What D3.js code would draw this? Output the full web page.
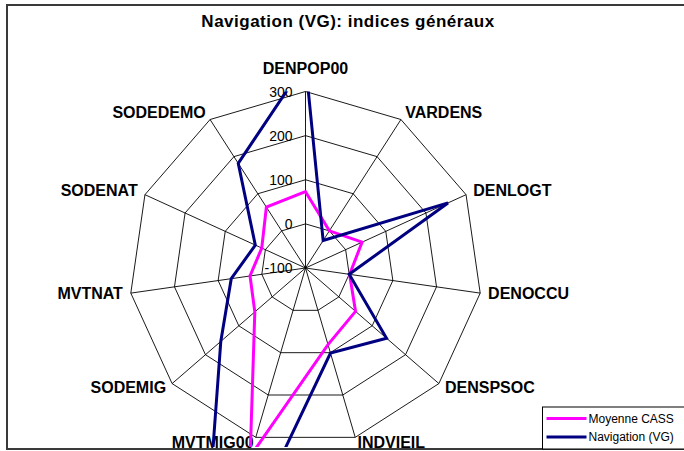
<!DOCTYPE html>
<html lang="fr">
<head>
<meta charset="utf-8">
<title>Navigation (VG): indices généraux</title>
<script src="https://cdn.jsdelivr.net/npm/d3@7"></script>
<style>
body {
  margin: 0;
  background: #fff;
  font-family: "Liberation Sans", Arial, sans-serif;
}
.chart-title { font-size: 17px; font-weight: bold; letter-spacing: 0.5px; }
.axis-label { font-size: 16px; font-weight: bold; }
.tick-label { font-size: 14px; }
.legend-text { font-size: 12px; }
</style>
</head>
<body>
<svg width="684" height="451"></svg>
<script>

var axes = ["DENPOP00", "VARDENS", "DENLOGT", "DENOCCU", "DENSPSOC", "INDVIEIL",
            "MVTMIG00", "SODEMIG", "MVTNAT", "SODENAT", "SODEDEMO"];
var ticks = [-100, 0, 100, 200, 300];

var moyenneCass = [73, 0, 41, 1, 50, 81, 345, 52, 27, 9, 64];
var navigation  = [365, -26, 255, 0, 143, 101, 750, 154, 70, 25, 182];

var seriesNames = ["Moyenne CASS", "Navigation (VG)"];
var seriesColors = ["#ff00ff", "#000080"];

var svg = d3.select("svg"),
    width = +svg.attr("width"),
    height = +svg.attr("height");

var cx = 305.5, cy = 268, R = 176.5;

var r = d3.scaleLinear()
    .domain([ticks[0], ticks[ticks.length - 1]])
    .range([0, R]);

var angle = function(i) { return i * 2 * Math.PI / axes.length; };

// chart area frame
svg.append("rect")
    .attr("x", 7).attr("y", 5)
    .attr("width", width + 10).attr("height", 444)
    .attr("fill", "#fff")
    .attr("stroke", "#3a3a3a")
    .attr("stroke-width", 2);

svg.append("text")
    .attr("class", "chart-title")
    .attr("x", 348).attr("y", 27)
    .attr("text-anchor", "middle")
    .text("Navigation (VG): indices généraux");

// series are clipped to the plot area, like Excel does
svg.append("clipPath")
    .attr("id", "plot-clip")
  .append("rect")
    .attr("x", 0).attr("y", cy - R)
    .attr("width", width).attr("height", 447 - (cy - R));

var g = svg.append("g")
    .attr("transform", "translate(" + cx + "," + cy + ")");

var ring = d3.lineRadial()
    .angle(function(d, i) { return angle(i); })
    .radius(function(d) { return r(d); })
    .curve(d3.curveLinearClosed);

// web grid
g.selectAll(".ring")
  .data(ticks.slice(1))
  .enter().append("path")
    .attr("class", "ring")
    .attr("d", function(t) { return ring(axes.map(function() { return t; })); })
    .attr("fill", "none")
    .attr("stroke", "#000")
    .attr("stroke-width", 0.9);

g.selectAll(".spoke")
  .data(axes)
  .enter().append("line")
    .attr("class", "spoke")
    .attr("x1", 0).attr("y1", 0)
    .attr("x2", function(d, i) { return R * Math.sin(angle(i)); })
    .attr("y2", function(d, i) { return -R * Math.cos(angle(i)); })
    .attr("stroke", "#000")
    .attr("stroke-width", 0.9);

// value labels up the first spoke
g.selectAll(".tick-label")
  .data(ticks)
  .enter().append("text")
    .attr("class", "tick-label")
    .attr("x", -13)
    .attr("y", function(d) { return -r(d); })
    .attr("dy", "0.36em")
    .attr("text-anchor", "end")
    .text(function(d) { return d; });

// category labels
g.selectAll(".axis-label")
  .data(axes)
  .enter().append("text")
    .attr("class", "axis-label")
    .attr("x", function(d, i) { return (R + 8) * Math.sin(angle(i)); })
    .attr("y", function(d, i) {
      var a = angle(i), y = -(R + 8) * Math.cos(a);
      if (i === 0) return y - 10;
      return y + 5 - 3 * Math.max(0, -Math.cos(a) - 0.3);
    })
    .attr("text-anchor", function(d, i) {
      var s = Math.sin(angle(i));
      return Math.abs(s) < 0.1 ? "middle" : (s > 0 ? "start" : "end");
    })
    .text(function(d) { return d; });

// series
var plot = g.append("g")
    .attr("clip-path", "url(#plot-clip)")
    .attr("transform", "translate(" + (-cx) + "," + (-cy) + ")")
  .append("g")
    .attr("transform", "translate(" + cx + "," + cy + ")");

plot.selectAll(".series")
  .data([moyenneCass, navigation])
  .enter().append("path")
    .attr("class", "series")
    .attr("d", ring)
    .attr("fill", "none")
    .attr("stroke", function(d, i) { return seriesColors[i]; })
    .attr("stroke-width", 3)
    .attr("stroke-linejoin", "miter");

// legend
var legend = svg.append("g")
    .attr("transform", "translate(542.5,407)");

legend.append("rect")
    .attr("width", 160).attr("height", 42)
    .attr("fill", "#fff")
    .attr("stroke", "#000")
    .attr("stroke-width", 1);

var item = legend.selectAll(".legend-item")
  .data(seriesNames)
  .enter().append("g")
    .attr("class", "legend-item")
    .attr("transform", function(d, i) { return "translate(0," + (11.5 + i * 18.5) + ")"; });

item.append("line")
    .attr("x1", 4).attr("x2", 44)
    .attr("stroke", function(d, i) { return seriesColors[i]; })
    .attr("stroke-width", 3);

item.append("text")
    .attr("class", "legend-text")
    .attr("x", 46)
    .attr("dy", "0.36em")
    .text(function(d) { return d; });

</script>
</body>
</html>
